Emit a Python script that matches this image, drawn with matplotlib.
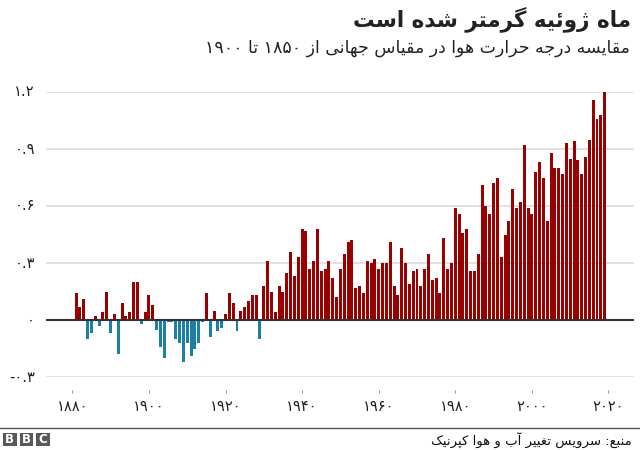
import re
import matplotlib
matplotlib.use("Agg")
import matplotlib.pyplot as plt
from matplotlib.patches import Rectangle
from matplotlib.lines import Line2D

title_text = "ماه ژوئیه گرمتر شده است"
subtitle_text = "مقایسه درجه حرارت هوا در مقیاس جهانی از ۱۸۵۰ تا ۱۹۰۰"
source_text = "منبع: سرویس تغییر آب و هوا کپرنیک"

first_year = 1881
anomalies = [
    0.14, 0.07, 0.11, -0.10, -0.07, 0.02, -0.03, 0.04, 0.15, -0.07,
    0.03, -0.18, 0.09, 0.02, 0.04, 0.20, 0.20, -0.02, 0.04, 0.13,
    0.08, -0.05, -0.14, -0.20, -0.01, -0.01, -0.10, -0.12, -0.22, -0.12,
    -0.19, -0.15, -0.12, -0.01, 0.14, -0.09, 0.05, -0.06, -0.04, 0.03,
    0.14, 0.09, -0.06, 0.05, 0.07, 0.10, 0.13, 0.13, -0.10, 0.18,
    0.31, 0.15, 0.04, 0.18, 0.15, 0.25, 0.36, 0.23, 0.33, 0.48,
    0.47, 0.27, 0.31, 0.48, 0.26, 0.27, 0.31, 0.22, 0.12, 0.27,
    0.35, 0.41, 0.42, 0.17, 0.18, 0.14, 0.31, 0.30, 0.32, 0.27,
    0.30, 0.30, 0.41, 0.18, 0.13, 0.38, 0.30, 0.19, 0.26, 0.27,
    0.18, 0.27, 0.35, 0.21, 0.22, 0.14, 0.43, 0.27, 0.30, 0.59,
    0.56, 0.46, 0.48, 0.26, 0.26, 0.35, 0.71, 0.60, 0.56, 0.72,
    0.75, 0.33, 0.45, 0.52, 0.69, 0.59, 0.62, 0.92, 0.59, 0.56,
    0.78, 0.83, 0.75, 0.52, 0.88, 0.80, 0.80, 0.77, 0.93, 0.85,
    0.94, 0.84, 0.77, 0.86, 0.95, 1.16, 1.06, 1.08, 1.20,
]
years = list(range(first_year, first_year + len(anomalies)))
x_ticks = [1880, 1900, 1920, 1940, 1960, 1980, 2000, 2020]
x_labels = ["۱۸۸۰", "۱۹۰۰", "۱۹۲۰", "۱۹۴۰", "۱۹۶۰", "۱۹۸۰", "۲۰۰۰", "۲۰۲۰"]
y_ticks = [-0.3, 0, 0.3, 0.6, 0.9, 1.2]
y_labels = ["-۰.۳", "۰", "۰.۳", "۰.۶", "۰.۹", "۱.۲"]

RED = "#990000"
BLUE = "#1b80a3"

# matplotlib has no Arabic shaping: map letters to presentation forms.
# (isolated, final, initial, medial); two-form letters do not join forward.
FORMS = {
    "ا": (0xFE8D, 0xFE8E), "آ": (0xFE81, 0xFE82), "ؤ": (0xFE85, 0xFE86),
    "د": (0xFEA9, 0xFEAA), "ذ": (0xFEAB, 0xFEAC), "ر": (0xFEAD, 0xFEAE),
    "ز": (0xFEAF, 0xFEB0), "ژ": (0xFB8A, 0xFB8B), "و": (0xFEED, 0xFEEE),
}
for ch, base in {"ئ": 0xFE89, "ب": 0xFE8F, "پ": 0xFB56, "ت": 0xFE95, "ث": 0xFE99,
                 "ج": 0xFE9D, "چ": 0xFB7A, "ح": 0xFEA1, "خ": 0xFEA5, "س": 0xFEB1,
                 "ش": 0xFEB5, "ص": 0xFEB9, "ض": 0xFEBD, "ط": 0xFEC1, "ظ": 0xFEC5,
                 "ع": 0xFEC9, "غ": 0xFECD, "ف": 0xFED1, "ق": 0xFED5, "ک": 0xFB8E,
                 "گ": 0xFB92, "ل": 0xFEDD, "م": 0xFEE1, "ن": 0xFEE5, "ه": 0xFEE9,
                 "ی": 0xFBFC}.items():
    FORMS[ch] = (base, base + 1, base + 2, base + 3)


def shape(text):
    out = []
    for i, ch in enumerate(text):
        forms = FORMS.get(ch)
        if not forms:
            out.append(ch)
            continue
        prev = text[i - 1] if i else ""
        nxt = text[i + 1] if i + 1 < len(text) else ""
        joins_prev = prev in FORMS and len(FORMS[prev]) == 4
        joins_next = nxt in FORMS and len(forms) == 4
        if joins_prev and joins_next:
            code = forms[3]
        elif joins_next:
            code = forms[2]
        elif joins_prev:
            code = forms[1]
        else:
            code = forms[0]
        out.append(chr(code))
    visual = "".join(out)[::-1]
    return re.sub(r"[۰-۹]+", lambda m: m.group(0)[::-1], visual)


plt.rcParams["font.family"] = "DejaVu Sans"
W, H = 640, 450
fig = plt.figure(figsize=(W / 100, H / 100), dpi=100)


def fx(px):
    return px / W


def fy(px):
    return 1 - px / H


ax = fig.add_axes([fx(46), fy(377), fx(634) - fx(46), fy(92) - fy(377)])
ax.set_xlim(1873.13, 2026.66)
ax.set_ylim(-0.3, 1.2)

ax.bar(years, anomalies, width=0.78, linewidth=0,
       color=[RED if v >= 0 else BLUE for v in anomalies], zorder=2, clip_on=False)
ax.axhline(0, color="#333333", linewidth=1.5, zorder=3)

for side in ("top", "left", "right"):
    ax.spines[side].set_visible(False)
ax.spines["bottom"].set_visible(False)
ax.spines["bottom"].set_position(("outward", 9.4))

ax.set_yticks(y_ticks, y_labels)
ax.grid(axis="y", color="#dcdcdc", linewidth=1.2, zorder=1)
ax.set_axisbelow(True)
ax.tick_params(axis="y", length=0, pad=8, labelsize=10.5, labelcolor="#222222")
for lab in ax.get_yticklabels():
    lab.set_verticalalignment("center")

ax.set_xticks(x_ticks, x_labels)
ax.tick_params(axis="x", length=2.5, width=0.8, color="#999999", pad=4,
               labelsize=10.5, labelcolor="#222222")

fig.text(fx(631), fy(19), shape(title_text), ha="right", va="center",
         fontsize=15.5, fontweight="bold", color="#222222")
fig.text(fx(630), fy(48), shape(subtitle_text), ha="right", va="center",
         fontsize=12.5, color="#222222")
fig.text(fx(632), fy(440), shape(source_text), ha="right", va="center",
         fontsize=9.5, color="#111111")

fig.add_artist(Line2D([0, 1], [fy(428), fy(428)], color="#555555", linewidth=1,
                      transform=fig.transFigure))
for left, letter in zip((3, 19.5, 36), "BBC"):
    fig.add_artist(Rectangle((fx(left), fy(446)), 13.5 / W, 13.5 / H, facecolor="#595959",
                             edgecolor="none", transform=fig.transFigure))
    fig.text(fx(left + 6.75), fy(439.5), letter, ha="center", va="center",
             fontsize=8.5, fontweight="bold", color="white")

fig.savefig("out.png", dpi=100, facecolor="white")
